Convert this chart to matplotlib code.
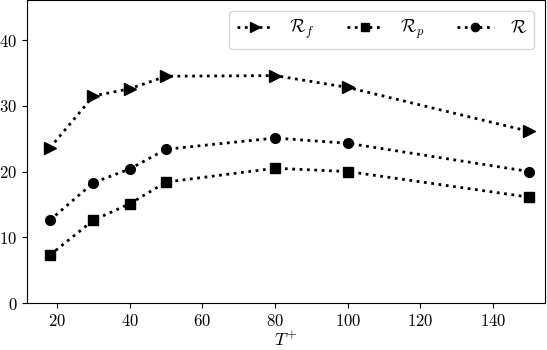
import matplotlib
matplotlib.use("Agg")
import matplotlib.pyplot as plt

plt.rcParams['font.family'] = 'serif'
plt.rcParams['font.serif'] = ['cmr10']
plt.rcParams['mathtext.fontset'] = 'cm'
plt.rcParams['axes.formatter.use_mathtext'] = True
plt.rcParams['axes.unicode_minus'] = False

T = [18, 30, 40, 50, 80, 100, 150]
R_f = [23.6, 31.5, 32.6, 34.5, 34.6, 32.8, 26.1]
R_p = [7.3, 12.6, 15.1, 18.4, 20.5, 20.0, 16.1]
R = [12.6, 18.3, 20.4, 23.4, 25.1, 24.3, 20.0]

fig = plt.figure(figsize=(5.47, 3.5), dpi=100)
ax = fig.add_axes([27/547, 47/350, (545-27)/547, 303/350])

ax.plot(T, R_f, ls=':', lw=2, color='black', marker='>', ms=8, label=r'$\mathcal{R}_f$')
ax.plot(T, R_p, ls=':', lw=2, color='black', marker='s', ms=7, label=r'$\mathcal{R}_p$')
ax.plot(T, R, ls=':', lw=2, color='black', marker='o', ms=7, label=r'$\mathcal{R}$')

ax.set_xlim(11.7, 154.3)
ax.set_ylim(0, 46.1)
ax.set_xticks([20, 40, 60, 80, 100, 120, 140])
ax.set_yticks([0, 10, 20, 30, 40])
ax.set_xlabel(r'$T^{+}$', fontsize=13, labelpad=1)
ax.tick_params(labelsize=12)
ax.legend(ncol=3, loc='upper right', fontsize=13, handlelength=2, columnspacing=1.85,
          handletextpad=0.9, markerscale=0.85, borderaxespad=0.6, framealpha=0.8)

fig.savefig('out.png', dpi=100)
